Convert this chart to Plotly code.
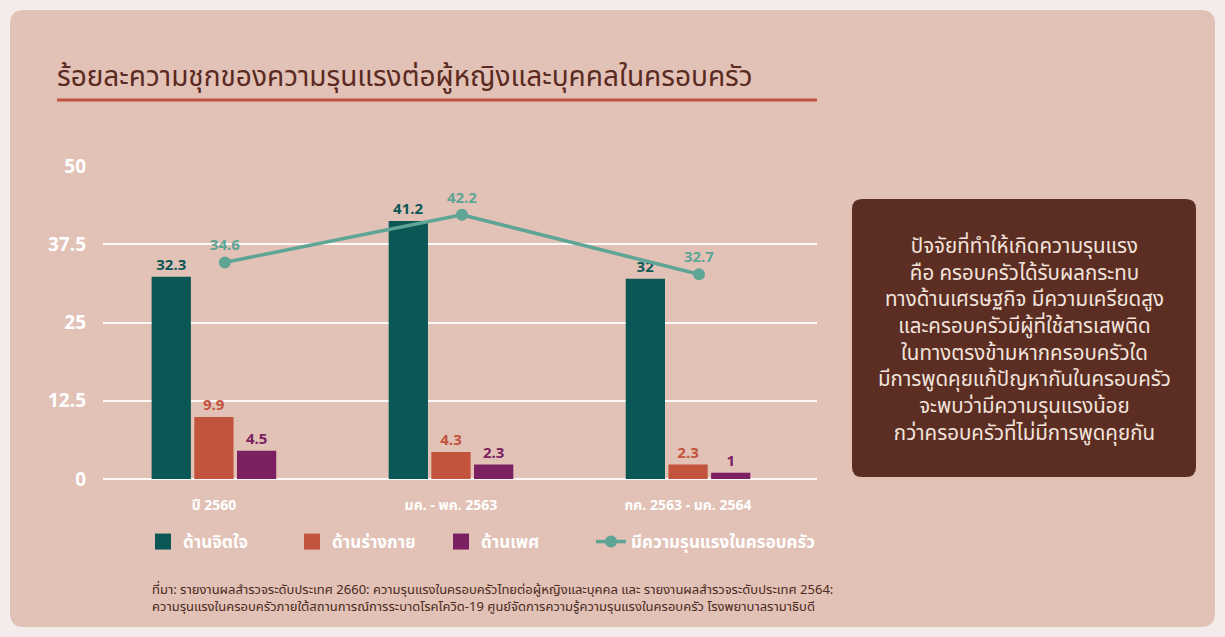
import plotly.graph_objects as go

# datos
categorias = ["ปี 2560", "มค. - พค. 2563", "กค. 2563 - มค. 2564"]
posiciones = [0, 1, 2]
jitado     = [32.3, 41.2, 32]      # ด้านจิตใจ
cuerpo     = [9.9, 4.3, 2.3]       # ด้านร่างกาย
sexual     = [4.5, 2.3, 1]         # ด้านเพศ
total      = [34.6, 42.2, 32.7]    # มีความรุนแรงในครอบครัว
y_ticks    = [0, 12.5, 25, 37.5, 50]
y_labels   = ["0", "12.5", "25", "37.5", "50"]

nombres = ["ด้านจิตใจ", "ด้านร่างกาย", "ด้านเพศ", "มีความรุนแรงในครอบครัว"]
colores = ["#0b5756", "#c2533c", "#7b2161", "#5ea596"]

W, H = 1225, 637
FONT = "Noto Sans Thai, Noto Sans, sans-serif"
FONT_NUM = "Open Sans, Noto Sans, sans-serif"


def px_x(v):
    return v / W


def px_y(v):
    return 1 - v / H


def caja_redonda(x0, y0, x1, y1, r):
    # rectangulo con esquinas redondeadas en coordenadas de papel
    rx, ry = r / W, r / H
    a, b, c, d = px_x(x0), px_y(y1), px_x(x1), px_y(y0)
    return (f"M{a+rx},{b} L{c-rx},{b} Q{c},{b} {c},{b+ry} "
            f"L{c},{d-ry} Q{c},{d} {c-rx},{d} "
            f"L{a+rx},{d} Q{a},{d} {a},{d-ry} "
            f"L{a},{b+ry} Q{a},{b} {a+rx},{b} Z")


fig = go.Figure()

for serie, nombre, color in zip([jitado, cuerpo, sexual], nombres[:3], colores[:3]):
    fig.add_trace(go.Bar(
        x=posiciones, y=serie, name=nombre,
        marker=dict(color=color, line=dict(width=0)),
        text=serie, texttemplate="%{y}", textposition="outside",
        textfont=dict(family=FONT_NUM, size=15, color=color, weight="bold"),
        cliponaxis=False, showlegend=False,
    ))

# cuadros de la leyenda
for nombre, color in zip(nombres[:3], colores[:3]):
    fig.add_trace(go.Scatter(
        x=[None], y=[None], mode="markers", name=nombre,
        marker=dict(symbol="square", size=20, color=color),
    ))

fig.add_trace(go.Scatter(
    x=posiciones, y=total, name=nombres[3], xaxis="x2", legend="legend2",
    mode="lines+markers+text",
    line=dict(color=colores[3], width=3.5),
    marker=dict(size=12, color=colores[3]),
    text=total, texttemplate="%{y}", textposition="top center",
    textfont=dict(family=FONT_NUM, size=15, color=colores[3], weight="bold"),
    cliponaxis=False,
))

x_rango = [-0.468, 2.544]
desplaza = 0.046
fuente_leyenda = dict(family=FONT, size=17, color="white", weight="bold")

fig.update_layout(
    width=W, height=H,
    margin=dict(l=0, r=0, t=0, b=0, autoexpand=False),
    paper_bgcolor="#f4ecea",
    plot_bgcolor="rgba(0,0,0,0)",
    barmode="group", bargap=0.46, bargroupgap=0.08,
    font=dict(family=FONT, color="white"),
    xaxis=dict(
        domain=[px_x(103), px_x(817)], range=x_rango,
        tickvals=posiciones, ticktext=categorias,
        tickfont=dict(family=FONT, size=14, color="white", weight="bold"),
        showgrid=False, zeroline=False, showline=False, ticks="",
        ticklabelstandoff=16, automargin=False,
    ),
    xaxis2=dict(
        overlaying="x", domain=[px_x(103), px_x(817)],
        range=[x_rango[0] - desplaza, x_rango[1] - desplaza],
        visible=False,
    ),
    yaxis=dict(
        domain=[px_y(479), px_y(166)], range=[0, 50],
        tickvals=y_ticks, ticktext=y_labels,
        tickfont=dict(family=FONT_NUM, size=19, color="white", weight="bold"),
        gridcolor="rgba(255,255,255,0.9)", gridwidth=1.5,
        zeroline=True, zerolinecolor="rgba(255,255,255,0.9)", zerolinewidth=1.5,
        showline=False, ticks="", ticklabelstandoff=16, automargin=False,
    ),
    legend=dict(
        orientation="h", x=px_x(143), y=px_y(542), xanchor="left", yanchor="middle",
        entrywidth=104, entrywidthmode="pixels",
        font=fuente_leyenda, bgcolor="rgba(0,0,0,0)", itemclick=False,
    ),
    legend2=dict(
        orientation="h", x=px_x(591), y=px_y(542), xanchor="left", yanchor="middle",
        font=fuente_leyenda, bgcolor="rgba(0,0,0,0)", itemclick=False,
    ),
    shapes=[
        dict(type="path", xref="paper", yref="paper", layer="below",
             path=caja_redonda(10, 10, 1215, 627, 14),
             fillcolor="#e2c1b6", line=dict(width=0)),
        dict(type="line", xref="paper", yref="paper",
             x0=px_x(57), x1=px_x(817), y0=px_y(100), y1=px_y(100),
             line=dict(color="#c2533c", width=3)),
        dict(type="path", xref="paper", yref="paper",
             path=caja_redonda(852, 199, 1196, 477, 10),
             fillcolor="#5c2e23", line=dict(width=0)),
    ],
    annotations=[
        dict(xref="paper", yref="paper", x=px_x(55), y=px_y(77),
             xanchor="left", yanchor="middle", showarrow=False,
             text="ร้อยละความชุกของความรุนแรงต่อผู้หญิงและบุคคลในครอบครัว",
             font=dict(family=FONT, size=28, color="#5a2a22")),
        dict(xref="paper", yref="paper", x=px_x(1024), y=px_y(340),
             xanchor="center", yanchor="middle", showarrow=False, align="center",
             text=("ปัจจัยที่ทำให้เกิดความรุนแรง<br>"
                   "คือ ครอบครัวได้รับผลกระทบ<br>"
                   "ทางด้านเศรษฐกิจ มีความเครียดสูง<br>"
                   "และครอบครัวมีผู้ที่ใช้สารเสพติด<br>"
                   "ในทางตรงข้ามหากครอบครัวใด<br>"
                   "มีการพูดคุยแก้ปัญหากันในครอบครัว<br>"
                   "จะพบว่ามีความรุนแรงน้อย<br>"
                   "กว่าครอบครัวที่ไม่มีการพูดคุยกัน"),
             font=dict(family=FONT, size=20.5, color="#f3e4dd")),
        dict(xref="paper", yref="paper", x=px_x(150), y=px_y(598),
             xanchor="left", yanchor="middle", showarrow=False, align="left",
             text=("ที่มา: รายงานผลสำรวจระดับประเทศ 2660: ความรุนแรงในครอบครัวไทยต่อผู้หญิงและบุคคล และ รายงานผลสำรวจระดับประเทศ 2564:<br>"
                   "ความรุนแรงในครอบครัวภายใต้สถานการณ์การระบาดโรคโควิด-19 ศูนย์จัดการความรู้ความรุนแรงในครอบครัว โรงพยาบาลรามาธิบดี"),
             font=dict(family=FONT, size=13, color="#4a2a22")),
    ],
)

fig.write_html("out.html", config={"displayModeBar": False},
               post_script="document.body.style.margin='0';")
